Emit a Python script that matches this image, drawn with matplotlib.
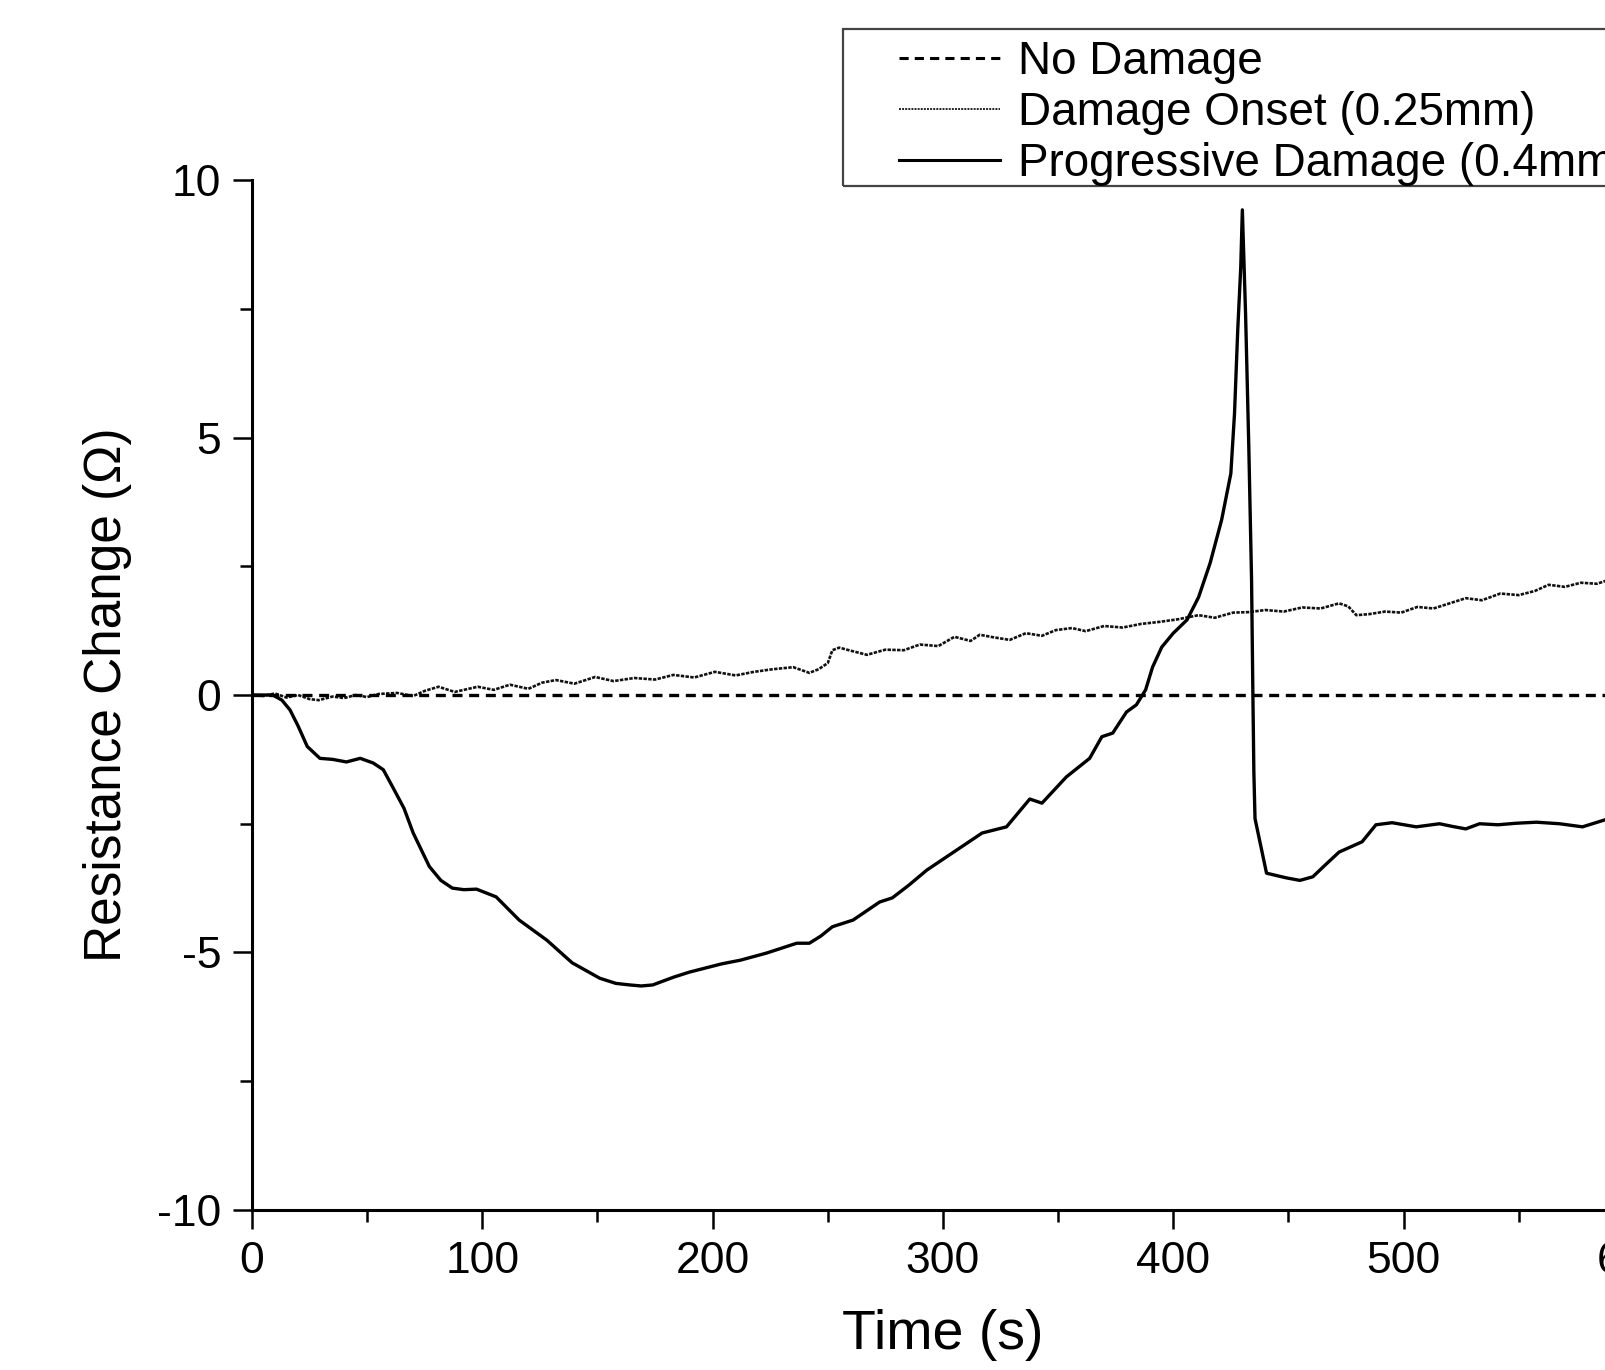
import matplotlib
matplotlib.use("Agg")
import matplotlib.pyplot as plt
from matplotlib.lines import Line2D
from matplotlib.patches import Rectangle
from matplotlib.ticker import MultipleLocator

plt.rcParams['font.family'] = ['Liberation Sans', 'DejaVu Sans']
plt.rcParams['axes.unicode_minus'] = False

# --- data ---
no_damage_t = [0, 600]
no_damage_r = [0, 0]

onset_t = [0, 5, 10, 15, 20, 25, 29, 35, 40, 45, 50, 55, 63, 70, 75, 81, 88, 98,
           105, 112, 120, 126, 132, 140, 149, 157, 166, 175, 183, 192, 201, 210,
           218, 226, 235, 242, 246, 250, 252, 255, 260, 267, 275, 283, 290, 298,
           305, 312, 316, 322, 329, 336, 343, 349, 356, 362, 370, 378, 386, 394,
           402, 411, 418, 426, 433, 440, 448, 456, 464, 472, 476, 479.5, 485, 492,
           499, 506, 513, 520, 527, 534, 542, 550, 557, 563, 570, 577, 584, 590]
onset_r = [0.0, -0.02, 0.03, -0.05, 0.0, -0.08, -0.1, -0.03, -0.06, 0.0, -0.04, 0.02,
           0.04, -0.02, 0.08, 0.16, 0.06, 0.16, 0.1, 0.2, 0.12, 0.24, 0.29, 0.22,
           0.35, 0.27, 0.33, 0.3, 0.39, 0.34, 0.45, 0.38, 0.45, 0.5, 0.54, 0.43,
           0.5, 0.62, 0.87, 0.92, 0.86, 0.78, 0.88, 0.87, 0.98, 0.95, 1.13, 1.05,
           1.17, 1.12, 1.07, 1.2, 1.15, 1.26, 1.3, 1.24, 1.34, 1.31, 1.38, 1.42,
           1.47, 1.55, 1.5, 1.6, 1.61, 1.65, 1.62, 1.7, 1.68, 1.78, 1.72, 1.55,
           1.57, 1.62, 1.6, 1.71, 1.68, 1.78, 1.88, 1.84, 1.97, 1.94, 2.02, 2.14,
           2.1, 2.18, 2.16, 2.25]

prog_t = [0, 9, 13, 16.5, 20, 24, 29.5, 35, 41, 47, 52.6, 57, 61, 66, 70, 77, 82,
          87, 92, 97.5, 106, 116, 128, 139, 151, 158, 164, 169, 174, 183, 190, 197,
          204, 212, 223.5, 236.5, 242, 247, 252, 261, 272.5, 278, 285, 293, 304,
          317, 327.6, 337.7, 343, 353.6, 363.7, 369, 373.7, 379.7, 384, 388, 391,
          395, 400, 406, 411, 416, 421, 425, 426.6, 428, 429.3, 430, 431.4, 432.8,
          434, 434.5, 435, 435.5, 440.5, 449, 455, 460.6, 466, 472, 482, 488, 495,
          505.5, 515.6, 521, 527, 533, 541, 549, 557.7, 567.7, 577.7, 587]
prog_r = [0, 0, -0.1, -0.29, -0.6, -1.0, -1.23, -1.25, -1.3, -1.23, -1.32, -1.45,
          -1.78, -2.2, -2.68, -3.33, -3.6, -3.75, -3.78, -3.77, -3.92, -4.37, -4.76,
          -5.2, -5.5, -5.6, -5.63, -5.65, -5.63, -5.48, -5.38, -5.3, -5.22, -5.15,
          -5.01, -4.82, -4.82, -4.68, -4.5, -4.37, -4.02, -3.94, -3.7, -3.4, -3.07,
          -2.68, -2.56, -2.02, -2.1, -1.59, -1.23, -0.81, -0.74, -0.33, -0.19, 0.1,
          0.54, 0.93, 1.2, 1.46, 1.9, 2.56, 3.4, 4.3, 5.47, 7.09, 8.3, 9.42, 7.4,
          4.82, 2.23, 0.29, -1.5, -2.4, -3.46, -3.55, -3.6, -3.53, -3.3, -3.05,
          -2.85, -2.52, -2.48, -2.56, -2.5, -2.55, -2.6, -2.5, -2.52, -2.49, -2.47,
          -2.5, -2.56, -2.43]

labels = ['No Damage', 'Damage Onset (0.25mm)', 'Progressive Damage (0.4mm)']

fig = plt.figure(figsize=(16.05, 13.70), dpi=100)
ax = fig.add_axes([0.157, 0.1168, 0.861, 0.7518])

ax.plot(onset_t, onset_r, color='#111111', lw=1.9, ls=(0, (1.3, 0.5)))
ax.plot(no_damage_t, no_damage_r, color='black', lw=2.4, ls=(0, (3, 2)))
ax.plot(prog_t, prog_r, color='black', lw=2.4)

ax.set_xlim(0, 600)
ax.set_ylim(-10, 10)
ax.xaxis.set_major_locator(MultipleLocator(100))
ax.xaxis.set_minor_locator(MultipleLocator(50))
ax.yaxis.set_major_locator(MultipleLocator(5))
ax.yaxis.set_minor_locator(MultipleLocator(2.5))
for side in ['top', 'right']:
    ax.spines[side].set_visible(False)
for side in ['left', 'bottom']:
    ax.spines[side].set_linewidth(2.2)
ax.tick_params(which='major', direction='out', length=14, width=1.8, labelsize=32, pad=8)
ax.tick_params(which='minor', direction='out', length=8.5, width=1.8)
ax.set_xlabel('Time (s)', fontsize=40, labelpad=20)
ax.set_ylabel('Resistance Change (Ω)', fontsize=37, labelpad=18)

# legend box (open on the right, like the cropped original)
fig.patches.append(Rectangle((0.525, 0.8642), 0.6, 0.1146, transform=fig.transFigure,
                             fill=False, edgecolor='#444444', lw=1.6))
handles = [Line2D([], [], color='black', lw=2.2, ls=(0, (3, 2))),
           Line2D([], [], color='#222222', lw=1.4, ls=(0, (1, 0.6))),
           Line2D([], [], color='black', lw=2.2)]
fig.legend(handles, labels, loc='upper left', bbox_to_anchor=(0.560, 0.9705),
           frameon=False, fontsize=33, borderpad=0, borderaxespad=0,
           labelspacing=0.15, handlelength=2.2, handletextpad=0.4)

fig.savefig('out.png', dpi=100, facecolor='white')
